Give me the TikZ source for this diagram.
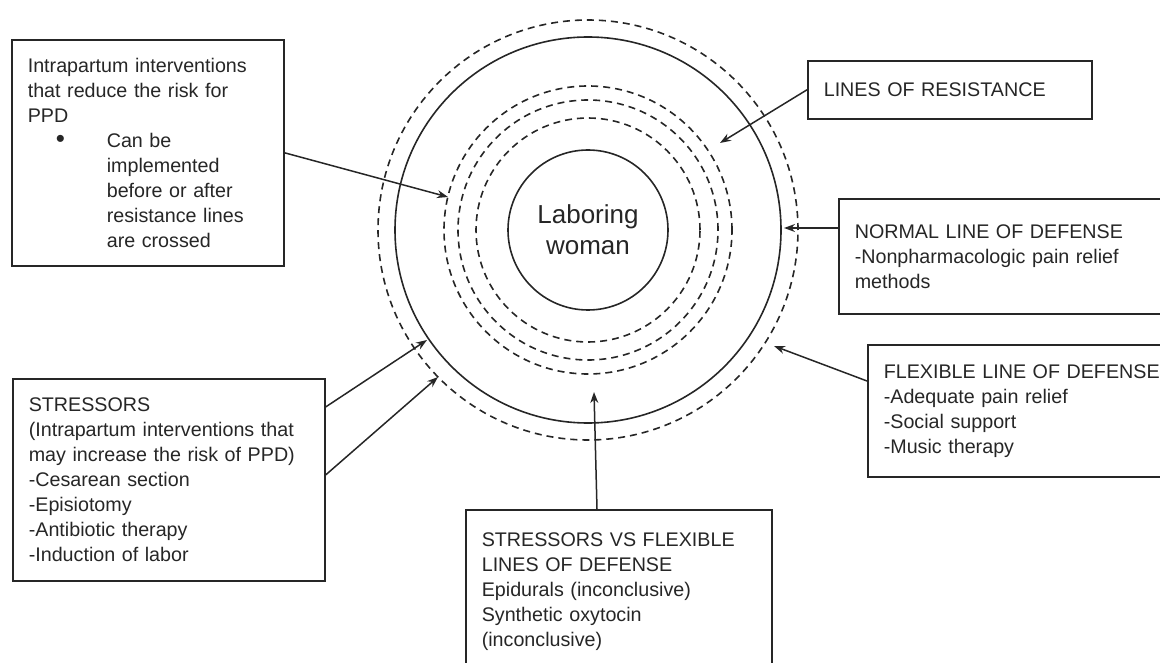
\documentclass[tikz,border=0pt]{standalone}
\usepackage{fontspec}
\setmainfont{Liberation Sans}
\usetikzlibrary{arrows.meta}
\definecolor{inkgray}{gray}{0.15}

\tikzset{
  infobox/.style={draw=inkgray, line width=1.6pt, anchor=north west, align=left, inner xsep=16pt, inner ysep=0pt, text=inkgray, font={\fontsize{19.7}{25}\selectfont}},
  ring/.style={draw=inkgray, line width=1.6pt},
  dashring/.style={ring, dash pattern=on 7pt off 5pt},
  pointer/.style={draw=inkgray, line width=1.5pt, -{Stealth[length=11pt,width=8pt]}}
}

\begin{document}
\begin{tikzpicture}[x=1pt,y=-1pt]
\useasboundingbox (0,0) rectangle (1160,663);% page in pixels of the reference, y going down
\coordinate (mid) at (588,230);% centre of all rings
\draw[dashring] (mid) circle[radius=210pt];% flexible line
\draw[ring] (mid) circle[radius=193pt];% normal line
\draw[dashring] (mid) circle[radius=144pt];% lines of resistance
\draw[dashring] (mid) circle[radius=130pt];
\draw[dashring] (mid) circle[radius=112pt];
\node[ring, circle, minimum size=160pt, inner sep=0pt, align=center, text=inkgray, font={\fontsize{26}{31}\selectfont}] (woman) at (mid) {Laboring\\woman};

\node[infobox, text width=240pt, minimum height=226pt] (reduce) at (11,39) {Intrapartum interventions\\that reduce the risk for\\PPD\\\hspace*{28pt}\makebox[51pt][l]{{\fontsize{26}{25}\selectfont\textbullet}}Can be\\\hspace*{79pt}implemented\\\hspace*{79pt}before or after\\\hspace*{79pt}resistance lines\\\hspace*{79pt}are crossed};
\node[infobox, text width=252pt, minimum height=58pt] (resist) at (807,60) {LINES OF RESISTANCE};
\node[infobox, text width=296pt, minimum height=115pt] (normal) at (838,198) {NORMAL LINE OF DEFENSE\\-Nonpharmacologic pain relief\\methods};
\node[infobox, text width=281pt, minimum height=132pt] (flexible) at (867,344) {FLEXIBLE LINE OF DEFENSE\\-Adequate pain relief\\-Social support\\-Music therapy};
\node[infobox, text width=280pt, minimum height=202pt] (stress) at (12,378) {STRESSORS\\(Intrapartum interventions that\\may increase the risk of PPD)\\-Cesarean section\\-Episiotomy\\-Antibiotic therapy\\-Induction of labor};
\node[infobox, text width=274pt, minimum height=163pt] (versus) at (465,509) {STRESSORS VS FLEXIBLE\\LINES OF DEFENSE\\Epidurals (inconclusive)\\Synthetic oxytocin\\(inconclusive)};

\coordinate (reduceTip) at (448,197);
\coordinate (resistTip) at (720,143);
\coordinate (normalTip) at (784,228);
\coordinate (flexTip) at (774,346);
\coordinate (stressTipA) at (427,340);
\coordinate (stressTipB) at (438,377);
\coordinate (versusTip) at (594,392);

\draw[pointer] (reduce.east) -- (reduceTip);
\draw[pointer] (resist.west) -- (resistTip);
\draw[pointer] ([yshift=-30pt]normal.north west) -- (normalTip);
\draw[pointer] ([yshift=-37pt]flexible.north west) -- (flexTip);
\draw[pointer] ([yshift=-29pt]stress.north east) -- (stressTipA);
\draw[pointer] ([yshift=-97pt]stress.north east) -- (stressTipB);
\draw[pointer] ([xshift=132pt]versus.north west) -- (versusTip);
\end{tikzpicture}
\end{document}
